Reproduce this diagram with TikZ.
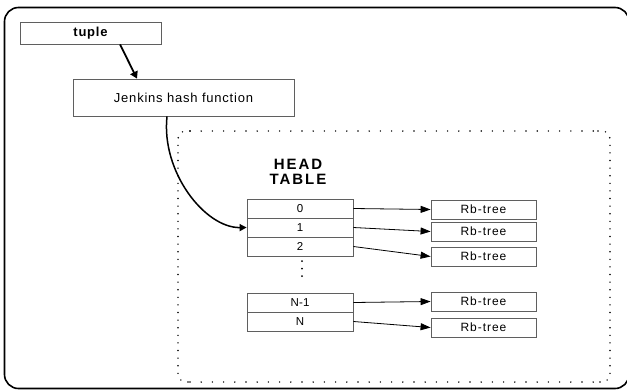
\documentclass[tikz,border=0pt]{standalone}
\usepackage{fontspec}
\setmainfont{Liberation Sans}
\newfontfamily\lblfont[LetterSpace=6]{Liberation Sans}
\newfontfamily\treefont[LetterSpace=8]{Liberation Sans}
\newfontfamily\cellfont[LetterSpace=2]{Liberation Sans}
\newfontfamily\headfont[LetterSpace=13]{Liberation Sans}
\usetikzlibrary{arrows.meta}
\definecolor{boxline}{RGB}{95,95,95}
\tikzset{
  x=1pt, y=-1pt,
  box/.style={draw=boxline, line width=0.8pt, rectangle, inner sep=0pt,
    font=\lblfont\fontsize{13}{15}\selectfont},
  cell/.style={draw=boxline, line width=0.8pt, rectangle, inner sep=0pt,
    minimum width=106pt, minimum height=19pt,
    font=\cellfont\fontsize{11.5}{13}\selectfont},
  rb/.style={draw=boxline, line width=0.8pt, rectangle, inner sep=0pt,
    minimum width=105pt, minimum height=19pt,
    font=\treefont\fontsize{12}{14}\selectfont},
  link/.style={line width=0.8pt, -{Triangle[length=10pt,width=7pt]}},
  vdot/.style={line width=1.6pt, line cap=round, dash pattern=on 0pt off 7.6pt},
  hdot/.style={line width=1.6pt, line cap=round, dash pattern=on 0pt off 11.2pt},
}
\begin{document}
\begin{tikzpicture}
\useasboundingbox (0,0) rectangle (627,389);
\clip (0,0) rectangle (627,389);

% outer frame
\draw[line width=1.6pt, rounded corners=14pt] (4.5,7.5) rectangle (629,388.5);

% dotted group around the head table
\draw[vdot, rounded corners=8pt] (190,131) -- (178,131) -- (178,382) -- (190,382);
\draw[vdot, rounded corners=8pt] (598,131) -- (610,131) -- (610,382) -- (598,382);
\draw[hdot] (190,131) -- (598,131);
\draw[hdot] (190,382) -- (598,382);

% input and hash function
\node[box, minimum width=141pt, minimum height=22pt] (tuple) at (90.5,33)
  {\bfseries\fontsize{13}{15}\selectfont tuple};
\node[box, minimum width=221pt, minimum height=37pt] (jenkins) at (183.5,97.5)
  {Jenkins hash function};

% head table
\node[align=center, inner sep=0pt, font=\headfont\bfseries\fontsize{15}{15}\selectfont]
  (title) at (298,172) {HEAD\\TABLE};
\node[cell] (c0) at (300,208.5) {0};
\node[cell] (c1) at (300,227.5) {1};
\node[cell] (c2) at (300,246.5) {2};
\node[cell] (cn1) at (300,302.5) {N-1};
\node[cell] (cn) at (300,321.5) {N};
\foreach \y in {261,268.5,276} \fill (302,\y) circle (1pt);

% trees
\node[rb] (r0) at (483.5,209.5) {Rb-tree};
\node[rb] (r1) at (483.5,231.5) {Rb-tree};
\node[rb] (r2) at (483.5,256.5) {Rb-tree};
\node[rb] (rn1) at (483.5,301.5) {Rb-tree};
\node[rb] (rn) at (483.5,327.5) {Rb-tree};

% connectors
\draw[line width=1.8pt, -{Triangle[length=7pt,width=8pt]}]
  ([xshift=29.5pt]tuple.south) -- ([xshift=-46.5pt]jenkins.north);
\draw[line width=1.5pt, -{Triangle[length=7pt,width=7pt]}]
  ([xshift=-16.5pt]jenkins.south) .. controls (161,172) and (205,228) .. (c1.west);
\draw[link] (c0.east) -- (r0.west);
\draw[link] (c1.east) -- (r1.west);
\draw[link] (c2.east) -- (r2.west);
\draw[link] (cn1.east) -- (rn1.west);
\draw[link] (cn.east) -- (rn.west);
\end{tikzpicture}
\end{document}
